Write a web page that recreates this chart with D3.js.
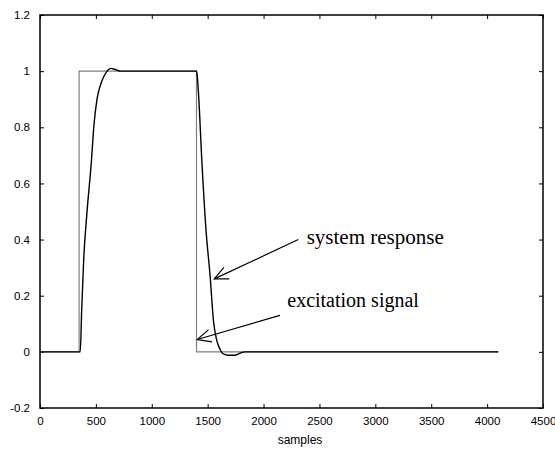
<!DOCTYPE html>
<html>
<head>
<meta charset="utf-8">
<script src="https://cdn.jsdelivr.net/npm/d3@7"></script>
<style>
  body { margin: 0; background: #fff; }
  svg { display: block; }
</style>
</head>
<body>
<svg id="vis" width="555" height="449"></svg>
<script>
// datos
const EXC_X = [0, 350, 350, 1400, 1400, 4100];
const EXC_Y = [0, 0, 1, 1, 0, 0];

const RESP_X = [0, 360, 373, 391, 421, 460, 481, 510, 540, 570, 600, 630, 680, 720, 1400,
  1405, 1418, 1448, 1484, 1522, 1552, 1582, 1610, 1632, 1680, 1740, 1790, 1830, 4100];
const RESP_Y = [0, 0, 0.15, 0.33, 0.5, 0.68, 0.8, 0.9, 0.95, 0.98, 1.0, 1.01, 1.005, 1.0, 1.0,
  0.99, 0.92, 0.68, 0.44, 0.27, 0.11, 0.04, 0.01, -0.005, -0.012, -0.012, -0.005, 0, 0];

const X_TICKS = [0, 500, 1000, 1500, 2000, 2500, 3000, 3500, 4000, 4500];
const Y_TICKS = [-0.2, 0, 0.2, 0.4, 0.6, 0.8, 1, 1.2];

// anotaciones: texto, punta de la flecha, cola, posicion del texto
const NOTAS = [
  { texto: "system response", punta: [1559, 0.26], cola: [2311, 0.40], pos: [2386, 0.385], tam: 21 },
  { texto: "excitation signal", punta: [1407, 0.044], cola: [2147, 0.13], pos: [2212, 0.16], tam: 20 }
];

const SVG = d3.select("#vis");
const L = 40, R = 543, T = 15, B = 408;

const x = d3.scaleLinear().domain([0, 4500]).range([L, R]);
const y = d3.scaleLinear().domain([-0.2, 1.2]).range([B, T]);

const fmt = d => String(+d.toFixed(1));

// ejes con ticks hacia adentro
const ejeAbajo = SVG.append("g").attr("transform", `translate(0,${B})`)
  .call(d3.axisBottom(x).tickValues(X_TICKS).tickSizeInner(-4).tickSizeOuter(0).tickPadding(9).tickFormat(d3.format("d")));
const ejeArriba = SVG.append("g").attr("transform", `translate(0,${T})`)
  .call(d3.axisTop(x).tickValues(X_TICKS).tickSizeInner(-4).tickSizeOuter(0).tickFormat(""));
const ejeIzq = SVG.append("g").attr("transform", `translate(${L},0)`)
  .call(d3.axisLeft(y).tickValues(Y_TICKS).tickSizeInner(-4).tickSizeOuter(0).tickPadding(10).tickFormat(fmt));
const ejeDer = SVG.append("g").attr("transform", `translate(${R},0)`)
  .call(d3.axisRight(y).tickValues(Y_TICKS).tickSizeInner(-4).tickSizeOuter(0).tickFormat(""));

[ejeAbajo, ejeArriba, ejeIzq, ejeDer].forEach(g => {
  g.select(".domain").remove();
  g.selectAll("line").attr("stroke", "#000");
  g.selectAll("text").attr("fill", "#000")
    .style("font-family", "'Liberation Sans', Arial, sans-serif").style("font-size", "11.5px");
});

// marco
SVG.append("rect")
  .attr("x", L).attr("y", T).attr("width", R - L).attr("height", B - T)
  .attr("fill", "none").attr("stroke", "#000").attr("stroke-width", 1.5);

// titulo eje x
SVG.append("text")
  .attr("x", 300).attr("y", 444)
  .attr("text-anchor", "middle")
  .style("font-family", "'Liberation Sans', Arial, sans-serif").style("font-size", "12px")
  .text("samples");

const linea = d3.line().x(d => x(d[0])).y(d => y(d[1]));

// senal de excitacion (gris)
SVG.append("path")
  .datum(d3.zip(EXC_X, EXC_Y))
  .attr("d", linea)
  .attr("fill", "none").attr("stroke", "#808080").attr("stroke-width", 1.2);

// respuesta del sistema (negro)
SVG.append("path")
  .datum(d3.zip(RESP_X, RESP_Y))
  .attr("d", d3.line().curve(d3.curveMonotoneX).x(d => x(d[0])).y(d => y(d[1])))
  .attr("fill", "none").attr("stroke", "#000").attr("stroke-width", 1.4);

// flechas y textos
const g = SVG.selectAll(".nota").data(NOTAS).join("g").attr("class", "nota");

g.append("line")
  .attr("x1", d => x(d.cola[0])).attr("y1", d => y(d.cola[1]))
  .attr("x2", d => x(d.punta[0])).attr("y2", d => y(d.punta[1]))
  .attr("stroke", "#000").attr("stroke-width", 1.2);

g.append("path")
  .attr("d", d => {
    const px = x(d.punta[0]), py = y(d.punta[1]);
    const ang = Math.atan2(y(d.cola[1]) - py, x(d.cola[0]) - px);
    const len = 15, ab = 25 * Math.PI / 180;
    const a1 = [px + len * Math.cos(ang + ab), py + len * Math.sin(ang + ab)];
    const a2 = [px + len * Math.cos(ang - ab), py + len * Math.sin(ang - ab)];
    return `M${a1[0]},${a1[1]}L${px},${py}L${a2[0]},${a2[1]}`;
  })
  .attr("fill", "none").attr("stroke", "#000").attr("stroke-width", 1.2);

g.append("text")
  .attr("x", d => x(d.pos[0])).attr("y", d => y(d.pos[1]))
  .style("font-family", "'Liberation Serif', 'Times New Roman', serif").style("font-size", d => d.tam + "px")
  .text(d => d.texto);
</script>
</body>
</html>
